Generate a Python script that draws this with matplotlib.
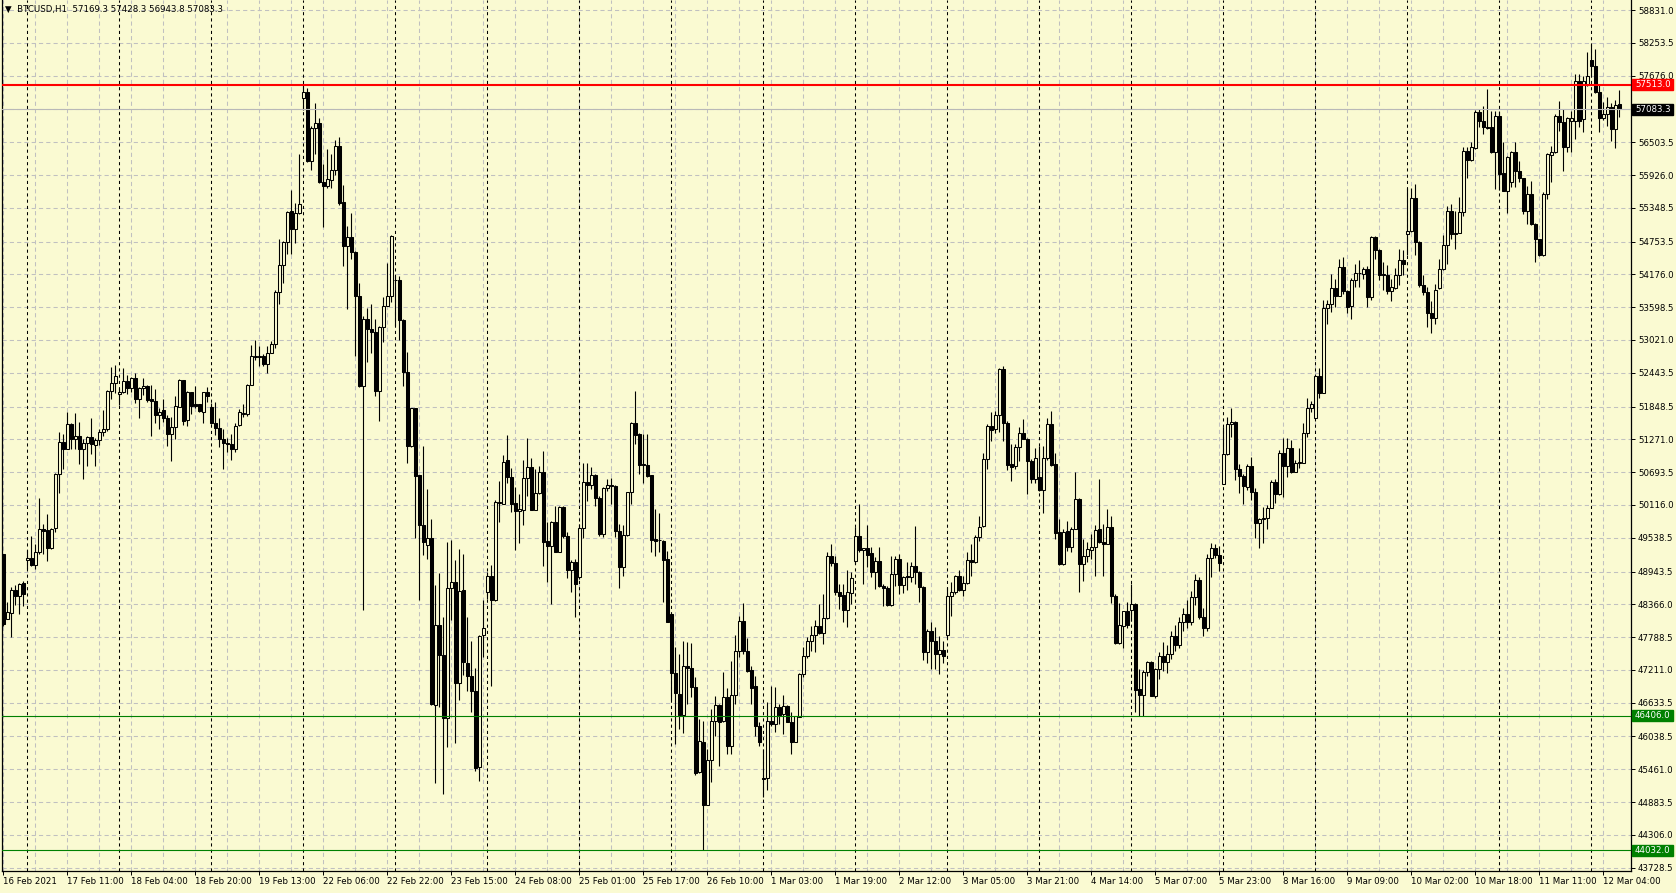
import matplotlib
matplotlib.use("Agg")
import matplotlib.pyplot as plt
from matplotlib.patches import Rectangle
from matplotlib.transforms import IdentityTransform

# ---------------- data (BTCUSD H1) ----------------
opens = [
49257, 48111, 48211, 48611, 48511, 48746, 49140, 49187, 49052, 49287,
49693, 49681, 49357, 49710, 50669, 51227, 51098, 51545, 51286, 51333,
51098, 51210, 51304, 51168, 51268, 51404, 51445, 52127, 52256, 52074,
52109, 52303, 52180, 52356, 51980, 52180, 52215, 51974, 51950, 51698,
51780, 51651, 51362, 51480, 51845, 52309, 51609, 52097, 51886, 51886,
51756, 52097, 51845, 51562, 51474, 51286, 51204, 51198, 51098, 51521,
51726, 51710, 52225, 52717, 52733, 52733, 52594, 52799, 52946, 53872,
54338, 54748, 55297, 54969, 55256, 57279, 57385, 56173, 56746, 56845,
55796, 55731, 55845, 56018, 56435, 55452, 54674, 54838, 54576, 53798,
52209, 53388, 53208, 53159, 52119, 53249, 53618, 53798, 54084, 54084,
53372, 52455, 51161, 51816, 50645, 49769, 49417, 49540, 46591, 48000,
47475, 46362, 48655, 48753, 46984, 48622, 47334, 47099, 46847, 45499,
47826, 48589, 48858, 48448, 50142, 50136, 50904, 50600, 50148, 50013,
50031, 50582, 50793, 50031, 50318, 50705, 49474, 49398, 49808, 49292,
50072, 49574, 48976, 49116, 48841, 49703, 50512, 50476, 50652, 50230,
49603, 50406, 50476, 50441, 49661, 49028, 49591, 50336, 51567, 51373,
50834, 50822, 50641, 49509, 49503, 49486, 49163, 48196, 47158, 46789,
46419, 47287, 47246, 46906, 45411, 45950, 44824, 45616, 46320, 46601,
46308, 46730, 45868, 46777, 47551, 48078, 47551, 47217, 46923, 46232,
45305, 45305, 46320, 46261, 46554, 46437, 46572, 46302, 45950, 46378,
47140, 47451, 47715, 47826, 47979, 47861, 48119, 49210, 49087, 48577,
48530, 48272, 48565, 49122, 49562, 49315, 49351, 49263, 48940, 49122,
48682, 48647, 48354, 48893, 49163, 48712, 48858, 48841, 49034, 48929,
48665, 47533, 47889, 47713, 47491, 47567, 47825, 48505, 48575, 48868,
48622, 48734, 49144, 49103, 49543, 49748, 50932, 51507, 51460, 51694,
52515, 51565, 50833, 50803, 51143, 51389, 51284, 50891, 50580, 50616,
50381, 50950, 51536, 50833, 49642, 49074, 49660, 49384, 49701, 50229,
49074, 49220, 49326, 49367, 49689, 49466, 49437, 49736, 48517, 47678,
47989, 48241, 48270, 48370, 46875, 46770, 47168, 47356, 46758, 47227,
47461, 47350, 47500, 47800, 47650, 48050, 48200, 48050, 48500, 48800,
48150, 47950, 49180, 49365, 49236, 50485, 51007, 51540, 51581, 50749,
50631, 50438, 50807, 50338, 49805, 49863, 49881, 50068, 50514, 50303,
51024, 50807, 51124, 50702, 50849, 50849, 51376, 51816, 51640, 52390,
52080, 53586, 53663, 53938, 53797, 54308, 53885, 53616, 54085, 54196,
54184, 54278, 53780, 54835, 54612, 54190, 54173, 53880, 53935, 54157,
54433, 54884, 54943, 55524, 54744, 53981, 53864, 53500, 53400, 53935,
54263, 54697, 55301, 54908, 54908, 55271, 56356, 56192, 56397, 57030,
56884, 56766, 56766, 56327, 56960, 55963, 55652, 55811, 56327, 56004,
55869, 55301, 55594, 55066, 54791, 54509, 55594, 56280, 56327, 56960,
56854, 56415, 56884, 56884, 57587, 56913, 57511, 57951, 57851, 57382,
56925, 57001, 57118, 56737, 57169.3]

highs = [
49257, 48405, 48669, 48711, 48740, 48769, 49316, 49569, 49422, 50239,
49787, 49963, 49716, 50680, 51392, 51374, 51756, 51551, 51727, 51568,
51286, 51327, 51639, 51298, 51462, 51786, 52139, 52550, 52580, 52168,
52521, 52403, 52374, 52433, 52197, 52356, 52227, 52227, 52150, 51827,
51974, 51698, 51668, 52039, 52333, 52315, 52121, 52109, 52209, 51898,
52109, 52186, 51915, 51933, 51639, 51462, 51298, 51357, 51551, 51808,
51898, 52242, 52930, 53012, 52913, 52774, 52913, 52995, 53896, 54797,
54764, 55297, 55665, 55436, 56304, 57516, 57451, 56787, 57197, 56927,
56116, 56378, 56296, 56542, 56599, 55747, 55026, 55256, 54592, 54027,
53446, 53577, 53659, 53388, 53266, 53781, 54371, 54863, 54166, 54142,
53388, 52815, 51832, 51832, 50645, 51161, 50399, 49867, 48704, 48925,
48147, 49457, 49498, 49146, 49335, 49253, 48137, 47727, 47240, 47826,
48442, 48929, 49064, 50201, 50541, 50992, 51344, 50775, 50424, 50307,
50904, 51303, 50934, 50746, 50805, 51069, 49808, 49837, 50090, 50090,
50090, 49632, 49151, 49163, 49779, 50863, 50863, 50793, 50664, 50277,
50424, 50570, 50582, 50465, 49779, 49761, 50347, 51579, 52124, 51391,
51362, 51362, 50652, 50043, 49972, 49497, 49298, 48208, 47610, 47492,
47727, 47697, 47686, 47082, 46349, 46320, 45821, 46525, 46748, 46613,
47170, 46888, 47369, 47826, 48166, 48389, 47768, 47287, 47111, 46290,
45821, 46642, 46935, 46906, 46613, 46771, 46595, 46466, 46408, 47158,
47610, 47785, 47990, 48096, 48371, 48547, 49280, 49427, 49210, 48723,
48723, 48976, 48929, 49720, 50130, 49362, 49761, 49380, 49192, 49368,
48723, 48682, 49222, 49210, 49251, 48858, 49104, 49116, 49738, 48958,
48682, 47932, 48048, 47961, 47801, 47725, 48663, 48751, 48880, 48974,
48868, 49279, 49425, 49584, 49924, 51026, 51536, 51753, 51771, 52533,
52562, 51595, 51184, 51184, 51495, 51636, 51302, 50920, 51126, 51155,
51155, 51653, 51771, 51038, 49865, 49701, 49836, 49736, 50698, 50240,
49513, 49455, 49601, 49759, 50569, 49777, 50041, 49924, 48546, 48388,
48253, 48399, 48722, 48388, 47227, 47215, 47373, 47367, 47239, 47520,
47700, 47650, 47900, 48000, 48150, 48300, 48450, 48600, 48900, 48850,
48300, 49250, 49440, 49425, 49400, 51493, 51669, 51816, 51593, 50831,
50655, 50831, 50966, 50409, 49893, 50086, 50115, 50555, 50573, 51083,
51300, 51300, 51259, 50907, 51124, 51552, 51992, 51945, 52402, 52531,
53721, 53721, 54190, 54102, 54442, 54483, 53897, 54114, 54366, 54425,
54307, 54325, 54847, 54847, 54624, 54396, 54337, 54102, 54286, 54626,
54597, 55693, 55693, 55770, 54756, 54157, 53950, 53700, 54000, 54450,
54861, 55389, 55418, 55301, 55535, 56415, 56415, 56502, 57077, 57089,
57136, 57441, 57060, 57060, 57060, 56502, 56268, 56356, 56502, 56180,
55881, 55740, 55828, 55078, 54802, 55623, 56309, 56444, 57001, 57235,
57089, 56942, 57060, 57705, 57705, 57675, 58097, 58232, 58144, 57511,
57206, 57294, 57195, 57253, 57428.3]

lows = [
47993, 48099, 47799, 48346, 48187, 48328, 48993, 49034, 48981, 49257,
49257, 49122, 49346, 49640, 50333, 50745, 51098, 51110, 51110, 50845,
50569, 50798, 51021, 50798, 51168, 51327, 51415, 51974, 52080, 51874,
52080, 52074, 52097, 51903, 51651, 52050, 51921, 51333, 51562, 51462,
51580, 51157, 50892, 51286, 51833, 51521, 51510, 51709, 51827, 51745,
51562, 51921, 51533, 51345, 51139, 50745, 51051, 50904, 51051, 51505,
51669, 51685, 52225, 52668, 52569, 52569, 52438, 52799, 52873, 53650,
54027, 54535, 54535, 54732, 55239, 57074, 56157, 56009, 56296, 55780,
55002, 55698, 55698, 55927, 55395, 54330, 53569, 54453, 52733, 52193,
48270, 52627, 52799, 52037, 51603, 52979, 53618, 53683, 53266, 53020,
52217, 50850, 51136, 49540, 48434, 49228, 49171, 46591, 45215, 46550,
45018, 45854, 48082, 45919, 46673, 47123, 46847, 46478, 45423, 45247,
47434, 48460, 46924, 48430, 49820, 50130, 50500, 49984, 49327, 49445,
49761, 50277, 50031, 50031, 50307, 49034, 48753, 48372, 49292, 49292,
49538, 48829, 48589, 48137, 48811, 49527, 50189, 50394, 50101, 49574,
49544, 50365, 50130, 49544, 48653, 48870, 49574, 50130, 51186, 50658,
50500, 50600, 49292, 49222, 49292, 48401, 48049, 46689, 45898, 46173,
46103, 46613, 46730, 45364, 45399, 44044, 44824, 45235, 46056, 45511,
46290, 45733, 45733, 46613, 47434, 47492, 47170, 46613, 46044, 45868,
44971, 45088, 46232, 46114, 46261, 46085, 46290, 45733, 45950, 46378,
47082, 47416, 47551, 47521, 47844, 47668, 48108, 49034, 48530, 48284,
48061, 47961, 48371, 49075, 49280, 48723, 49017, 48840, 48635, 48665,
48342, 48342, 48331, 48694, 48547, 48565, 48624, 48753, 48723, 48401,
47393, 47328, 47227, 47227, 47139, 47332, 47766, 48165, 48546, 48604,
48517, 48722, 48868, 49091, 49484, 49736, 50745, 51243, 51378, 51401,
51243, 50733, 50539, 50756, 50891, 51272, 50305, 50510, 50498, 50363,
49971, 50909, 50803, 49525, 49056, 49056, 49308, 49290, 49689, 48575,
48780, 49103, 49173, 48868, 49443, 48868, 49425, 48388, 47666, 47666,
47590, 47942, 48077, 46464, 46406, 46406, 47110, 46746, 46711, 47051,
47200, 47150, 47400, 47550, 47600, 47900, 47950, 48000, 48350, 48100,
47800, 47900, 48850, 49180, 48950, 50485, 50995, 51317, 50555, 50321,
50133, 50379, 50203, 49541, 49365, 49441, 49693, 50057, 50145, 50291,
50262, 50614, 50672, 50702, 50760, 50849, 51317, 51757, 51640, 51992,
52080, 53311, 53516, 53604, 53797, 53839, 53504, 53387, 53956, 53956,
54102, 53604, 53721, 54442, 54073, 53897, 53839, 53704, 53923, 53981,
54157, 54509, 54931, 54509, 53952, 53805, 53250, 53150, 53300, 53923,
54245, 54363, 54802, 54615, 54908, 55213, 55869, 56180, 56385, 56766,
56649, 56737, 56315, 55682, 55670, 55641, 55260, 55711, 55711, 55799,
55242, 55066, 55049, 54392, 54498, 54498, 55506, 55799, 56315, 56708,
56004, 56338, 56327, 56561, 56766, 56678, 57499, 57675, 57370, 56678,
56901, 56796, 56532, 56397, 56943.8]

closes = [
48023, 48228, 48622, 48511, 48728, 48540, 49187, 49052, 49287, 49687,
49663, 49357, 49698, 50669, 51227, 51098, 51545, 51274, 51333, 51098,
51210, 51304, 51186, 51268, 51404, 51445, 52127, 52256, 52386, 52109,
52303, 52180, 52356, 51980, 52180, 52215, 51962, 51950, 51698, 51756,
51651, 51362, 51480, 51862, 52309, 51592, 52097, 51856, 51856, 51768,
52097, 52039, 51562, 51474, 51274, 51210, 51192, 51098, 51510, 51750,
51742, 52225, 52733, 52733, 52725, 52594, 52799, 52946, 53872, 54338,
54748, 55280, 54969, 55256, 55420, 57385, 56173, 56746, 56845, 55796,
55731, 55862, 56018, 56435, 55436, 54674, 54838, 54576, 53798, 52209,
53388, 53208, 53159, 52119, 53249, 53618, 53798, 54846, 54084, 53372,
52455, 51161, 51816, 50620, 49769, 49457, 49540, 46607, 48000, 47475,
46362, 48655, 48753, 46984, 48606, 47344, 47099, 46847, 45481, 47815,
47944, 48858, 48448, 50160, 50160, 50881, 50600, 50130, 50013, 50043,
50582, 50793, 50031, 50318, 50705, 49468, 49398, 49808, 49292, 50072,
49574, 48976, 49116, 48723, 49703, 50512, 50476, 50652, 50230, 49603,
50406, 50476, 50441, 49661, 49028, 49585, 50336, 51567, 51350, 50822,
50822, 50629, 49497, 49486, 49497, 49151, 48061, 47158, 46806, 46419,
47287, 47246, 46906, 45393, 45968, 44824, 45616, 46320, 46601, 46290,
46730, 45868, 46777, 47551, 48067, 47551, 47199, 46888, 46232, 45939,
45282, 46320, 46261, 46554, 46419, 46572, 46302, 45950, 46396, 47140,
47451, 47715, 47826, 47979, 47861, 48119, 49210, 49087, 48577, 48518,
48272, 48577, 48823, 49562, 49327, 49351, 49239, 48940, 49122, 48682,
48647, 48354, 48893, 49163, 48712, 48841, 48841, 49034, 48929, 48665,
47533, 47891, 47713, 47491, 47567, 47461, 48517, 48575, 48868, 48622,
48734, 49144, 49103, 49543, 49736, 50932, 51507, 51436, 51694, 52515,
51565, 50815, 50792, 51143, 51389, 51284, 50891, 50580, 50950, 50381,
50950, 51548, 50815, 49619, 49074, 49642, 49384, 49701, 50229, 49074,
49220, 49349, 49367, 49672, 49455, 49437, 49736, 48517, 47678, 48001,
48241, 48000, 48370, 46863, 46770, 47168, 47356, 46758, 47227, 47461,
47350, 47500, 47800, 47650, 48050, 48200, 48050, 48500, 48800, 48150,
47950, 49180, 49365, 49236, 49100, 51007, 51535, 51581, 50749, 50631,
50455, 50807, 50338, 49805, 49863, 49881, 50068, 50514, 50303, 51024,
50807, 51124, 50702, 50849, 50866, 51376, 51816, 51886, 52390, 52080,
53586, 53663, 53938, 53797, 54308, 53885, 53604, 54085, 54208, 54196,
54278, 53780, 54835, 54612, 54173, 54161, 53880, 53956, 54169, 54433,
54351, 54943, 55524, 54744, 53981, 53864, 53500, 53400, 53900, 54263,
54697, 55301, 54890, 54890, 55271, 56344, 56192, 56415, 57030, 56884,
56766, 56760, 56327, 56960, 55946, 55652, 56239, 56327, 56004, 55869,
55301, 55594, 55066, 54791, 54509, 55594, 56297, 56327, 56960, 56854,
56415, 56925, 56925, 57587, 56884, 57587, 57664, 57851, 57382, 56925,
57001, 57118, 56737, 57165, 57083.3]

time_labels = ["16 Feb 2021", "17 Feb 11:00", "18 Feb 04:00", "18 Feb 20:00",
               "19 Feb 13:00", "22 Feb 06:00", "22 Feb 22:00", "23 Feb 15:00",
               "24 Feb 08:00", "25 Feb 01:00", "25 Feb 17:00", "26 Feb 10:00",
               "1 Mar 03:00", "1 Mar 19:00", "2 Mar 12:00", "3 Mar 05:00",
               "3 Mar 21:00", "4 Mar 14:00", "5 Mar 07:00", "5 Mar 23:00",
               "8 Mar 16:00", "9 Mar 09:00", "10 Mar 02:00", "10 Mar 18:00",
               "11 Mar 11:00", "12 Mar 04:00"]
price_ticks = [58831.0, 58253.5, 57676.0, 57091.0, 56503.5, 55926.0, 55348.5,
               54753.5, 54176.0, 53598.5, 53021.0, 52443.5, 51848.5, 51271.0,
               50693.5, 50116.0, 49538.5, 48943.5, 48366.0, 47788.5, 47211.0,
               46633.5, 46038.5, 45461.0, 44883.5, 44306.0, 43728.5]
resistance = 57513.0
supports = [46406.0, 44032.0]
bid = 57083.3
symbol = "BTCUSD,H1"

# ---------------- styling ----------------
BG = "#FAFAD2"
W, H = 1676, 893
LABEL_STEP = 16     # bars between time labels
GRID_STEP = 8       # bars between vertical grid lines
DAY_BARS = 23       # bars per trading day
FIRST_DAY = 6       # index of the first day separator

plt.rcParams['font.family'] = ['DejaVu Sans']
fig = plt.figure(figsize=(W / 100, H / 100), dpi=100)
fig.patch.set_facecolor(BG)
ax = fig.add_axes([2 / W, 22 / H, 1629 / W, 871 / H])
ax.set_facecolor(BG)

n = len(closes)
xs = list(range(n))
ax.set_xlim(-0.33, 406.9)
ax.set_ylim(43670, 59008)

# grid
for p in price_ticks:
    ax.axhline(p, color="#C0C0C0", lw=0.75, ls=(0, (4, 3)), zorder=1)
for i in range(0, n, GRID_STEP):
    ax.axvline(i, color="#C0C0C0", lw=0.75, ls=(0, (4, 3)), zorder=1)
for i in range(FIRST_DAY, n, DAY_BARS):
    ax.axvline(i, color="black", lw=0.75, ls=(0, (3, 3)), zorder=1.5)

# candles
wick_lo = [min(l, o, c) for l, o, c in zip(lows, opens, closes)]
wick_hi = [max(h, o, c) for h, o, c in zip(highs, opens, closes)]
ax.vlines(xs, wick_lo, wick_hi, color="black", lw=0.8, zorder=3)
bottoms = [min(o, c) for o, c in zip(opens, closes)]
heights = [abs(c - o) for o, c in zip(opens, closes)]
faces = ["black" if c < o else BG for o, c in zip(opens, closes)]
ax.bar(xs, heights, bottom=bottoms, width=0.62, color=faces,
       edgecolor="black", linewidth=0.75, zorder=4)

# horizontal levels
ax.axhline(bid, color="#B8B8B8", lw=0.8, zorder=5)
ax.axhline(resistance, color="#FF0000", lw=1.5, zorder=6)
for s in supports:
    ax.axhline(s, color="#008000", lw=0.8, zorder=6)

# axes / ticks
ax.spines["top"].set_visible(False)
for side in ["left", "right", "bottom"]:
    ax.spines[side].set_linewidth(0.9)
    ax.spines[side].set_color("black")
ax.yaxis.tick_right()
ax.set_yticks(price_ticks)
ax.set_yticklabels([f"{p:.1f}" for p in price_ticks])
ax.tick_params(axis="y", length=3, width=0.7, pad=2, labelsize=6.2)
label_pos = list(range(0, LABEL_STEP * len(time_labels), LABEL_STEP))
ax.set_xticks(label_pos)
ax.set_xticklabels(time_labels)
ax.tick_params(axis="x", length=3, width=0.7, pad=1.5, labelsize=6.2)
for t in ax.get_xticklabels():
    t.set_ha("left")

# price tags on the right scale
def tag(price, color, text):
    y = ax.transData.transform((0, price))[1]
    fig.add_artist(Rectangle((1632, y - 5.5), 41, 11, transform=IdentityTransform(),
                             facecolor=color, edgecolor=color, zorder=20))
    fig.text(1635, y, text, transform=IdentityTransform(), color="white",
             fontsize=6.2, va="center", ha="left", zorder=21)

tag(resistance, "#FF0000", f"{resistance:.1f}")
tag(bid, "black", f"{bid:.1f}")
for s in supports:
    tag(s, "#008000", f"{s:.1f}")

# title
fig.text(5 / W, 1 - 9 / H,
         f"\u25BC  {symbol}  {opens[-1]:.1f} {highs[-1]:.1f} {lows[-1]:.1f} {closes[-1]:.1f}",
         fontsize=6.2, va="center", ha="left", color="black")

fig.savefig("out.png", dpi=100, facecolor=BG)
